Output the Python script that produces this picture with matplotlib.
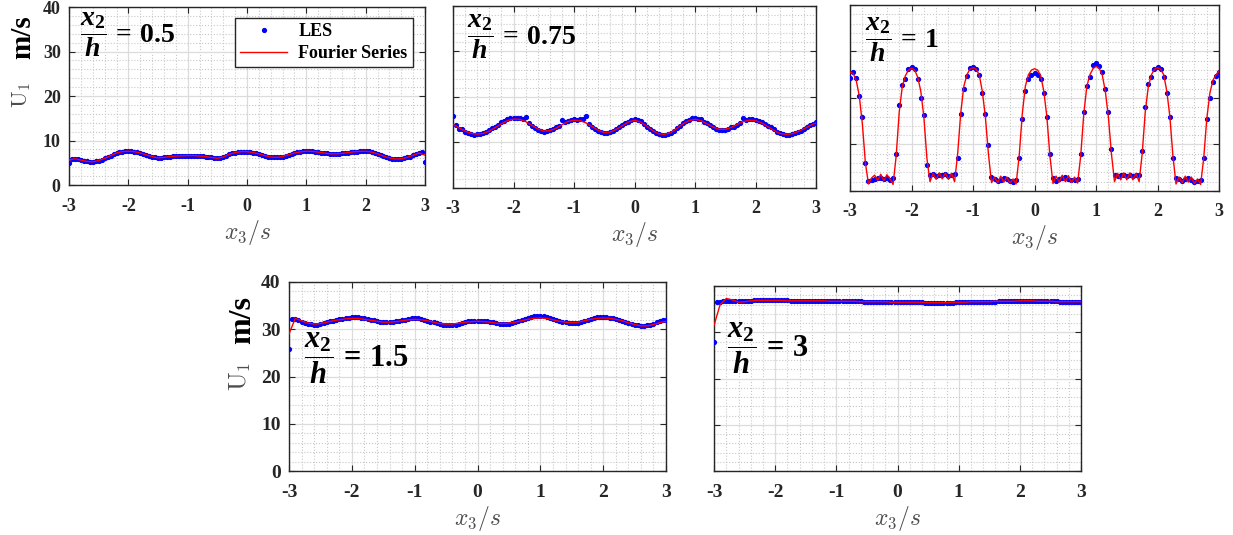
import numpy as np
import matplotlib
matplotlib.use('Agg')
import matplotlib.pyplot as plt
from matplotlib.ticker import MultipleLocator

plt.rcParams['axes.unicode_minus'] = False
plt.rcParams['mathtext.fontset'] = 'custom'
plt.rcParams['mathtext.rm'] = 'Liberation Serif:bold'
plt.rcParams['mathtext.bf'] = 'Liberation Serif:bold'
plt.rcParams['mathtext.it'] = 'Liberation Serif:italic:bold'

# LES samples, x3/s = -3 .. 3 step 0.05 (121 values)
les_05 = [5.0, 5.8, 5.9, 5.8, 5.6, 5.4, 5.3, 5.2, 5.2, 5.3,
          5.5, 5.7, 6.0, 6.3, 6.6, 6.9, 7.2, 7.4, 7.5, 7.6,
          7.6, 7.6, 7.5, 7.4, 7.2, 7.0, 6.8, 6.6, 6.4, 6.2,
          6.1, 6.1, 6.2, 6.3, 6.4, 6.45, 6.5, 6.5, 6.55, 6.6,
          6.6, 6.6, 6.6, 6.55, 6.5, 6.45, 6.4, 6.3, 6.2, 6.1,
          6.0, 6.1, 6.3, 6.6, 6.9, 7.1, 7.3, 7.4, 7.5, 7.5,
          7.5, 7.4, 7.3, 7.2, 7.0, 6.8, 6.6, 6.4, 6.3, 6.2,
          6.2, 6.3, 6.4, 6.6, 6.8, 7.0, 7.2, 7.35, 7.45, 7.55,
          7.6, 7.6, 7.55, 7.5, 7.4, 7.3, 7.2, 7.1, 7.0, 7.0,
          7.0, 7.0, 7.1, 7.2, 7.3, 7.4, 7.45, 7.5, 7.55, 7.6,
          7.6, 7.55, 7.4, 7.2, 7.0, 6.8, 6.5, 6.3, 6.1, 5.95,
          5.85, 5.85, 5.9, 6.0, 6.2, 6.4, 6.7, 7.0, 7.2, 7.5,
          5.2]
les_075 = [15.8, 13.8, 13.0, 12.9, 12.3, 12.1, 11.8, 11.7, 11.8, 11.8,
           12.1, 12.3, 12.7, 13.2, 13.5, 13.9, 14.4, 14.8, 15.1, 15.4,
           15.4, 15.3, 15.4, 15.2, 15.6, 14.3, 13.7, 13.2, 12.8, 12.6,
           12.4, 12.5, 12.7, 13.0, 13.4, 13.6, 14.9, 14.5, 14.8, 15.0,
           15.1, 15.0, 15.1, 15.2, 15.8, 14.0, 13.5, 13.0, 12.6, 12.2,
           12.1, 12.0, 12.3, 12.5, 12.9, 13.4, 13.8, 14.2, 14.6, 14.9,
           15.2, 15.0, 14.7, 14.1, 13.5, 13.0, 12.5, 12.1, 11.8, 11.7,
           11.7, 11.8, 12.1, 12.5, 13.2, 13.7, 14.2, 14.7, 15.0, 15.3,
           15.3, 15.2, 15.1, 14.6, 14.2, 13.8, 13.4, 13.0, 12.8, 12.8,
           12.8, 13.0, 13.3, 13.5, 13.9, 14.3, 15.3, 14.9, 15.2, 15.2,
           15.0, 14.7, 14.5, 14.0, 13.6, 13.3, 12.9, 12.4, 12.0, 11.8,
           11.7, 11.7, 11.8, 12.0, 12.3, 12.6, 12.9, 13.4, 13.8, 14.1,
           14.4]
les_1 = [24.3, 25.6, 24.3, 20.5, 16.0, 6.0, 2.2, 2.3, 2.6, 2.9,
         2.8, 2.5, 2.7, 2.4, 2.9, 8.0, 18.5, 22.8, 24.0, 26.2,
         26.7, 26.2, 24.0, 20.0, 16.3, 5.5, 3.4, 3.6, 3.3, 3.5,
         3.4, 3.6, 3.3, 3.5, 3.6, 7.0, 16.5, 22.0, 24.8, 26.5,
         26.7, 26.3, 25.0, 21.0, 16.5, 9.9, 3.0, 2.6, 2.2, 2.4,
         2.9, 2.5, 2.1, 2.0, 2.3, 7.0, 15.5, 21.5, 24.0, 25.0,
         25.3, 25.0, 24.0, 21.0, 16.0, 8.0, 2.8, 2.2, 2.5, 2.9,
         3.1, 2.6, 2.4, 2.3, 2.6, 8.0, 17.0, 22.5, 24.5, 27.0,
         27.5, 26.8, 25.5, 22.0, 17.0, 9.0, 3.4, 3.3, 3.5, 3.4,
         3.2, 3.4, 3.3, 3.5, 3.4, 8.5, 18.0, 23.0, 24.5, 26.3,
         26.7, 26.3, 24.5, 21.0, 16.0, 7.0, 2.8, 2.6, 2.2, 2.5,
         2.7, 2.3, 2.0, 2.1, 2.3, 7.0, 15.5, 20.0, 23.5, 24.8,
         25.5]
les_15 = [25.8, 32.2, 32.1, 31.9, 31.6, 31.4, 31.2, 31.1, 31.0, 31.0,
          31.1, 31.3, 31.5, 31.7, 31.8, 32.0, 32.1, 32.2, 32.3, 32.4,
          32.5, 32.5, 32.5, 32.4, 32.3, 32.2, 32.0, 31.9, 31.7, 31.6,
          31.5, 31.5, 31.6, 31.6, 31.7, 31.8, 31.9, 32.0, 32.2, 32.3,
          32.4, 32.3, 32.2, 32.0, 31.8, 31.6, 31.5, 31.3, 31.2, 31.0,
          30.9, 30.8, 30.9, 31.0, 31.2, 31.4, 31.6, 31.7, 31.8, 31.8,
          31.8, 31.8, 31.7, 31.7, 31.6, 31.5, 31.4, 31.2, 31.1, 31.1,
          31.2, 31.3, 31.5, 31.7, 31.9, 32.1, 32.3, 32.5, 32.7, 32.8,
          32.8, 32.7, 32.5, 32.3, 32.1, 31.9, 31.8, 31.6, 31.5, 31.4,
          31.3, 31.3, 31.4, 31.6, 31.8, 32.0, 32.2, 32.4, 32.5, 32.6,
          32.6, 32.5, 32.4, 32.3, 32.2, 32.0, 31.8, 31.6, 31.4, 31.2,
          31.0, 30.9, 30.7, 30.7, 30.8, 31.0, 31.2, 31.5, 31.7, 31.9,
          31.9]
les_3 = [28.0, 36.6, 36.6, 36.7, 36.7, 36.7, 36.7, 36.7, 36.8, 36.8,
         36.8, 36.8, 36.8, 36.9, 36.9, 36.9, 36.9, 36.9, 36.9, 36.9,
         36.9, 36.9, 36.9, 36.9, 36.9, 36.8, 36.8, 36.8, 36.8, 36.8,
         36.8, 36.8, 36.8, 36.8, 36.8, 36.8, 36.8, 36.8, 36.8, 36.7,
         36.7, 36.7, 36.7, 36.7, 36.7, 36.7, 36.7, 36.7, 36.7, 36.6,
         36.6, 36.6, 36.6, 36.6, 36.6, 36.6, 36.6, 36.6, 36.5, 36.5,
         36.5, 36.5, 36.5, 36.5, 36.5, 36.5, 36.5, 36.5, 36.5, 36.4,
         36.4, 36.4, 36.4, 36.4, 36.4, 36.4, 36.4, 36.4, 36.4, 36.5,
         36.5, 36.5, 36.5, 36.5, 36.5, 36.6, 36.6, 36.6, 36.6, 36.6,
         36.6, 36.6, 36.6, 36.7, 36.7, 36.7, 36.7, 36.7, 36.7, 36.7,
         36.8, 36.8, 36.8, 36.8, 36.8, 36.8, 36.7, 36.7, 36.7, 36.7,
         36.7, 36.7, 36.7, 36.6, 36.6, 36.6, 36.6, 36.6, 36.6, 36.6,
         36.6]

# Fourier series fits, step 0.1 (61 values), except x2/h = 1 at step 0.05
fs_05 = [5.6, 5.9, 5.6, 5.3, 5.2, 5.5, 6.0, 6.6, 7.2, 7.5,
         7.6, 7.5, 7.2, 6.8, 6.4, 6.1, 6.2, 6.4, 6.5, 6.55,
         6.6, 6.6, 6.5, 6.4, 6.2, 6.0, 6.3, 6.9, 7.3, 7.5,
         7.5, 7.3, 7.0, 6.6, 6.3, 6.2, 6.4, 6.8, 7.2, 7.45,
         7.6, 7.55, 7.4, 7.2, 7.0, 7.0, 7.1, 7.3, 7.45, 7.55,
         7.6, 7.4, 7.0, 6.5, 6.1, 5.85, 5.9, 6.2, 6.7, 7.2,
         6.7]
fs_075 = [14.0, 13.2, 12.5, 12.0, 11.85, 12.0, 12.5, 13.3, 14.1, 14.8,
          15.15, 15.1, 14.6, 13.8, 13.0, 12.5, 12.6, 13.1, 13.9, 14.6,
          14.9, 14.8, 14.3, 13.5, 12.7, 12.2, 12.3, 12.9, 13.7, 14.5,
          14.9, 14.5, 13.6, 12.6, 11.9, 11.8, 12.2, 13.1, 14.1, 14.8,
          15.1, 14.8, 14.1, 13.4, 12.9, 12.9, 13.3, 14.0, 14.6, 14.9,
          14.8, 14.3, 13.5, 12.7, 12.0, 11.8, 11.9, 12.4, 13.0, 13.7,
          14.3]
fs_1 = [25.5, 25.3, 23.8, 20.5, 14.5, 6.0, 1.5, 2.8, 3.4, 2.3,
        3.6, 2.2, 3.5, 2.6, 1.4, 7.5, 17.0, 22.5, 24.8, 26.0,
        26.4, 26.0, 24.5, 21.5, 16.0, 7.0, 2.0, 3.8, 2.5, 3.9,
        2.6, 3.9, 2.5, 3.8, 2.0, 8.0, 16.8, 22.5, 25.0, 26.2,
        26.5, 26.2, 25.0, 21.5, 16.0, 8.0, 1.8, 3.0, 1.8, 3.2,
        1.9, 3.0, 1.7, 2.6, 1.5, 7.5, 16.5, 22.5, 25.0, 26.0,
        26.3, 26.0, 24.8, 21.5, 16.0, 7.5, 1.6, 3.2, 1.9, 3.4,
        2.0, 3.3, 1.8, 3.0, 1.7, 7.5, 16.5, 22.5, 25.0, 26.3,
        26.8, 26.4, 25.0, 21.5, 16.0, 8.0, 2.0, 3.8, 2.4, 3.9,
        2.4, 3.9, 2.4, 3.8, 2.0, 8.0, 17.0, 22.5, 25.0, 26.2,
        26.5, 26.2, 25.0, 21.5, 16.0, 7.5, 1.5, 3.0, 1.8, 3.2,
        1.9, 3.0, 1.6, 2.6, 1.4, 7.0, 15.5, 21.0, 23.8, 25.0,
        25.8]
fs_15 = [29.0, 32.3, 31.8, 31.3, 31.1, 31.2, 31.5, 31.8, 32.0, 32.2,
         32.3, 32.3, 32.1, 31.9, 31.7, 31.5, 31.5, 31.6, 31.8, 32.0,
         32.1, 32.0, 31.8, 31.5, 31.2, 31.1, 31.1, 31.3, 31.5, 31.6,
         31.7, 31.6, 31.5, 31.3, 31.2, 31.3, 31.5, 31.8, 32.1, 32.3,
         32.4, 32.3, 32.0, 31.7, 31.5, 31.4, 31.5, 31.8, 32.1, 32.3,
         32.4, 32.3, 32.1, 31.8, 31.4, 31.0, 30.7, 30.7, 31.0, 31.4,
         31.7]
fs_3 = [31.5, 36.0, 37.3, 37.0, 36.5, 36.6, 36.8, 36.9, 36.9, 36.9,
        36.9, 36.9, 36.8, 36.8, 36.8, 36.8, 36.8, 36.8, 36.8, 36.7,
        36.7, 36.7, 36.7, 36.7, 36.6, 36.6, 36.6, 36.6, 36.6, 36.5,
        36.5, 36.5, 36.5, 36.5, 36.5, 36.4, 36.4, 36.4, 36.4, 36.5,
        36.5, 36.5, 36.6, 36.6, 36.6, 36.6, 36.7, 36.7, 36.7, 36.7,
        36.8, 36.8, 36.8, 36.7, 36.7, 36.7, 36.6, 36.6, 36.6, 36.6,
        36.6]

labels = ['0.5', '0.75', '1', '1.5', '3']

fig = plt.figure(figsize=(12.33, 5.35), dpi=100)

# rect, LES, FS, tick size, show y labels, annotation (x, y), annotation size
panels = [
    ([0.0560, 0.6542, 0.2887, 0.3327], les_05, fs_05, 13, True, (0.031, 0.843), 20),
    ([0.3674, 0.6486, 0.2944, 0.3402], les_075, fs_075, 13, False, (0.039, 0.830), 20),
    ([0.6894, 0.6430, 0.2993, 0.3477], les_1, fs_1, 13, False, (0.041, 0.812), 20),
    ([0.2344, 0.1196, 0.3058, 0.3533], les_15, fs_15, 14, True, (0.040, 0.595), 22),
    ([0.5791, 0.1196, 0.2977, 0.3458], les_3, fs_3, 14, False, (0.035, 0.665), 22),
]

dark = '#262626'
axes = []
for i, (rect, les, fs, tsize, ylab, apos, asize) in enumerate(panels):
    ax = fig.add_axes(rect)
    x_les = np.linspace(-3, 3, len(les))
    x_fs = np.linspace(-3, 3, len(fs))
    ax.plot(x_les, les, '.', color='b', markersize=5.5, label='LES', zorder=3)
    ax.plot(x_fs, fs, '-', color='r', linewidth=1.0, label='Fourier Series', zorder=4)
    ax.set_xlim(-3, 3)
    ax.set_ylim(0, 40)
    ax.xaxis.set_major_locator(MultipleLocator(1))
    ax.yaxis.set_major_locator(MultipleLocator(10))
    ax.xaxis.set_minor_locator(MultipleLocator(0.2))
    ax.yaxis.set_minor_locator(MultipleLocator(2))
    ax.grid(which='major', color='#dcdcdc', linewidth=0.9, linestyle='-')
    ax.grid(which='minor', color='#c8c8c8', linewidth=0.8, linestyle=':')
    ax.set_axisbelow(True)
    ax.tick_params(which='major', direction='in', length=4, width=0.8, color=dark,
                   top=True, right=True, labelsize=tsize, labelcolor=dark, pad=9)
    ax.tick_params(axis='y', which='major', pad=6)
    ax.tick_params(which='minor', length=0)
    ax.tick_params(axis='y', labelleft=ylab)
    for lab in ax.get_xticklabels() + ax.get_yticklabels():
        lab.set_family('Liberation Serif')
        lab.set_weight('bold')
    for sp in ax.spines.values():
        sp.set_color(dark)
        sp.set_linewidth(1.0)
    h_px = rect[3] * 535
    ax.set_xlabel(r'$x_3/s$', fontsize=17, color='#4d4d4d', math_fontfamily='cm', va='center')
    ax.xaxis.set_label_coords(0.5, -47.0 / h_px)
    ax.text(apos[0], apos[1], r'$\dfrac{x_2}{h}\,=\,\mathbf{%s}$' % labels[i],
            transform=ax.transAxes, ha='left', va='center', fontsize=asize,
            color='black', zorder=6)
    axes.append(ax)

# y-axis labels
for (ux, uy), (mx, my), us, ms in [((0.0178, 0.822), (0.0187, 0.930), 16, 21),
                                    ((0.1946, 0.2972), (0.1971, 0.4019), 18, 23)]:
    fig.text(ux, uy, r'$\mathrm{U}_1$', rotation=90, ha='center', va='center',
             fontsize=us, color='#4d4d4d', math_fontfamily='cm')
    fig.text(mx, my, 'm/s', rotation=90, ha='center', va='center', fontsize=ms,
             family='Liberation Serif', weight='bold', color='black')

leg = axes[0].legend(loc='upper right', bbox_to_anchor=(0.966, 0.938),
                     prop={'family': 'Liberation Serif', 'weight': 'bold', 'size': 13},
                     fancybox=False, edgecolor=dark, framealpha=1, handlelength=2.6,
                     labelspacing=0.25, borderpad=0.3, handletextpad=0.6, borderaxespad=0)
leg.get_frame().set_linewidth(1.0)

fig.savefig('out.png', dpi=100)
